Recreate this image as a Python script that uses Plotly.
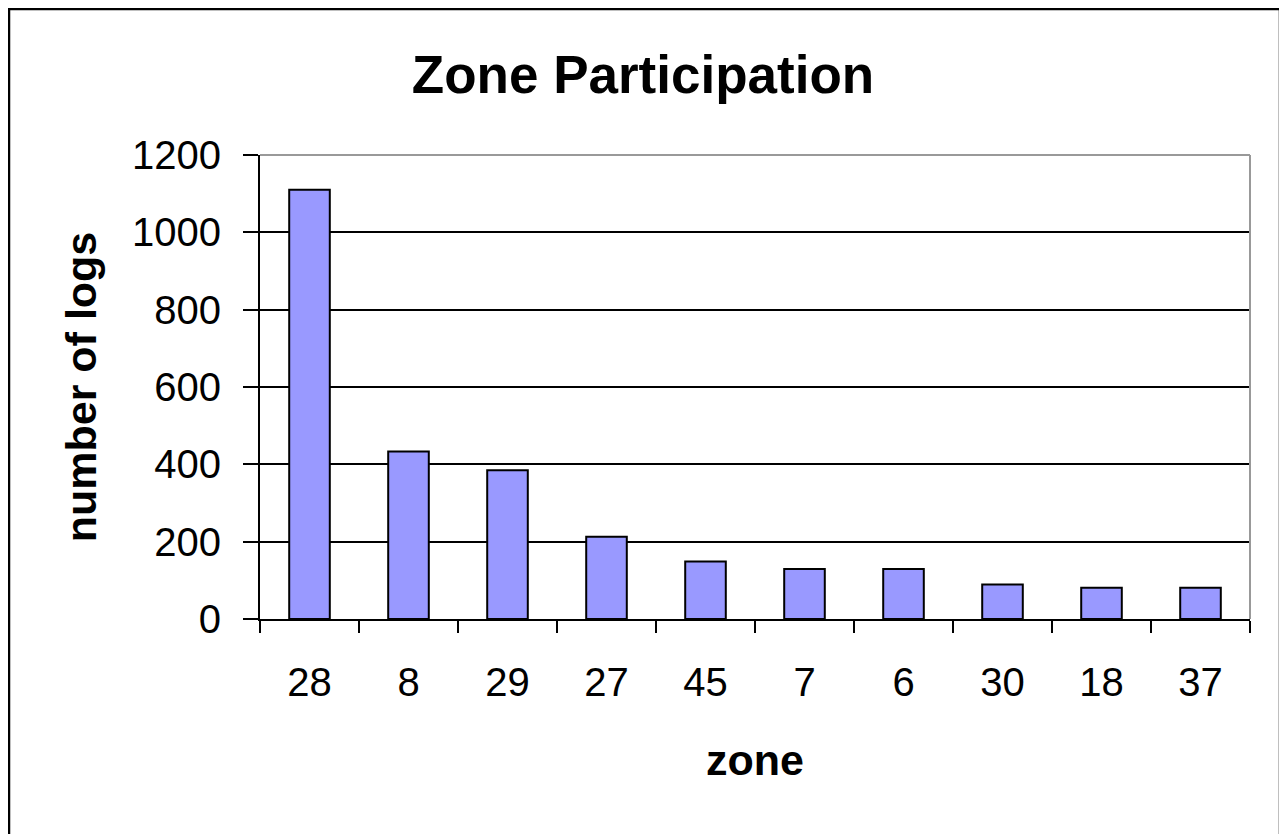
import plotly.graph_objects as go

zones = ["28", "8", "29", "27", "45", "7", "6", "30", "18", "37"]
logs = [1110, 433, 385, 213, 149, 129, 129, 89, 81, 81]

# page body has an 8px margin; figure coordinates = screen - 8
OFF = 8
W, H = 1287 - OFF, 834 - OFF
L, T = 260 - OFF, 155 - OFF
R = W - (1250 - OFF)
B = H - (619 - OFF)
pw = W - L - R
ph = H - T - B

def px(x):
    return (x - OFF - L) / pw

def py(y):
    return (H - B - (y - OFF)) / ph

fig = go.Figure(go.Bar(
    x=zones, y=logs,
    marker=dict(color="#9999FF", line=dict(color="black", width=2)),
))

fig.update_layout(
    width=W, height=H,
    margin=dict(l=L, r=R, t=T, b=B),
    paper_bgcolor="white", plot_bgcolor="white",
    bargap=0.59,
    showlegend=False,
    font=dict(family="Liberation Sans, Arial", color="black"),
    title=dict(text="<b>Zone Participation</b>", x=(643 - OFF) / W, xanchor="center",
               y=1 - (74 - OFF) / H, yanchor="middle", font=dict(size=53, color="black")),
    xaxis=dict(
        type="category", tickson="boundaries", ticks="outside", ticklen=12,
        tickcolor="black", tickwidth=2, showline=True, linecolor="black", linewidth=2,
        showgrid=False, tickfont=dict(size=40), ticklabelstandoff=27,
        title=dict(text="<b>zone</b>", font=dict(size=43), standoff=42),
    ),
    yaxis=dict(
        range=[0, 1200], tickvals=[0, 200, 400, 600, 800, 1000, 1200],
        ticks="outside", ticklen=15, tickcolor="black", tickwidth=2,
        showline=True, linecolor="black", linewidth=2,
        showgrid=True, gridcolor="black", gridwidth=2,
        tickfont=dict(size=40), zeroline=False, ticklabelstandoff=14,
        title=dict(text="<b>number of logs</b>", font=dict(size=43), standoff=22),
    ),
    shapes=[
        dict(type="line", xref="paper", yref="paper", x0=0, x1=1, y0=1, y1=1,
             line=dict(color="#999999", width=2)),
        dict(type="line", xref="paper", yref="paper", x0=1, x1=1, y0=0, y1=1,
             line=dict(color="#999999", width=2)),
        dict(type="rect", xref="paper", yref="paper", x0=px(9), x1=px(1280),
             y0=py(900), y1=py(9), line=dict(color="black", width=2.5),
             fillcolor="rgba(0,0,0,0)", layer="above"),
    ],
)

fig.write_html("out.html")
